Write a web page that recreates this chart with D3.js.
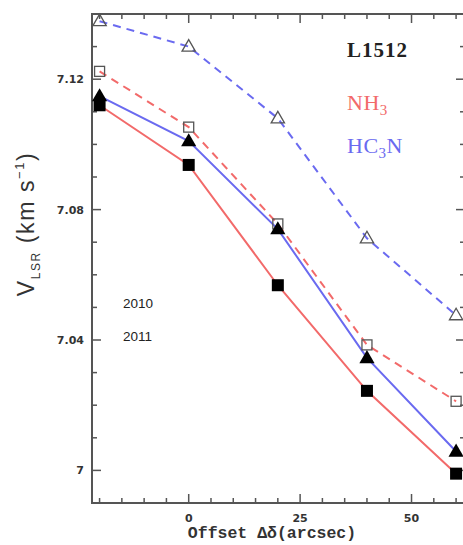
<!DOCTYPE html>
<html>
<head>
<meta charset="utf-8">
<script src="https://cdn.jsdelivr.net/npm/d3@7"></script>
<style>
  body { margin: 0; background: #fff; }
  svg { display: block; }
</style>
</head>
<body>
<svg id="chart"></svg>
<script>
// offsets along declination (arcsec)
const offsets = [-20, 0, 20, 40, 60];

// V_LSR values (km/s)
const hc3n2010 = [7.1378, 7.1300, 7.1080, 7.0712, 7.0476];
const nh32010 = [7.1224, 7.1053, 7.0756, 7.0385, 7.0212];
const hc3n2011 = [7.1148, 7.1010, 7.0740, 7.0345, 7.0058];
const nh32011 = [7.1120, 7.0937, 7.0568, 7.0244, 6.9990];

const yMajor = [7, 7.04, 7.08, 7.12];
const xMajor = [0, 25, 50];

const width = 463, height = 545;
const red = '#f26a6a', blue = '#6a6af0', axisCol = '#555';

const svg = d3.select('#chart').attr('width', width).attr('height', height);

const x = d3.scaleLinear().domain([-21.7, 62]).range([92, 465]);
const y = d3.scaleLinear().domain([6.99, 7.14]).range([503, 14]);

// frame
svg.append('rect')
    .attr('x', x.range()[0]).attr('y', y.range()[1])
    .attr('width', x.range()[1] - x.range()[0])
    .attr('height', y.range()[0] - y.range()[1])
    .attr('fill', 'none').attr('stroke', axisCol).attr('stroke-width', 2);

// inward ticks on all four sides
const xTicks = d3.range(-20, 62, 5);
const yTicks = d3.range(7.0, 7.141, 0.01).map(d => +d.toFixed(2));
const isMajX = d => xMajor.includes(d);
const isMajY = d => yMajor.some(m => Math.abs(m - d) < 1e-6);

const tk = svg.append('g').attr('stroke', axisCol).attr('stroke-width', 1.5);
xTicks.forEach(d => {
    const len = isMajX(d) ? 9 : 5;
    tk.append('line').attr('x1', x(d)).attr('x2', x(d)).attr('y1', y.range()[0]).attr('y2', y.range()[0] - len);
    tk.append('line').attr('x1', x(d)).attr('x2', x(d)).attr('y1', y.range()[1]).attr('y2', y.range()[1] + len);
});
yTicks.forEach(d => {
    const len = isMajY(d) ? 9 : 5;
    tk.append('line').attr('y1', y(d)).attr('y2', y(d)).attr('x1', x.range()[0]).attr('x2', x.range()[0] + len);
    tk.append('line').attr('y1', y(d)).attr('y2', y(d)).attr('x1', x.range()[1]).attr('x2', x.range()[1] - len);
});

// tick labels
svg.append('g').selectAll('text').data(yMajor).enter().append('text')
    .attr('x', 84).attr('y', d => y(d) + 4)
    .attr('text-anchor', 'end')
    .attr('font-family', 'DejaVu Sans').attr('font-size', 11).attr('font-weight', 'bold')
    .attr('fill', '#333')
    .text(d => d === 7 ? '7' : d.toFixed(2));

svg.append('g').selectAll('text').data(xMajor).enter().append('text')
    .attr('x', d => x(d)).attr('y', 522)
    .attr('text-anchor', 'middle')
    .attr('font-family', 'DejaVu Sans').attr('font-size', 11).attr('font-weight', 'bold')
    .attr('fill', '#333')
    .text(d => d);

// axis titles
svg.append('text')
    .attr('x', 272).attr('y', 538)
    .attr('text-anchor', 'middle')
    .attr('font-family', 'Liberation Mono').attr('font-size', 16.5).attr('font-weight', 'bold')
    .attr('fill', '#333')
    .text('Offset Δδ(arcsec)');

const yl = svg.append('text')
    .attr('transform', 'translate(34,224) rotate(-90)')
    .attr('text-anchor', 'middle')
    .attr('font-family', 'Liberation Sans').attr('font-size', 23)
    .attr('letter-spacing', 1.6)
    .attr('fill', '#333');
yl.append('tspan').text('V');
yl.append('tspan').attr('font-size', 12).attr('dy', 6).text('LSR');
yl.append('tspan').attr('dy', -6).text(' (km s');
yl.append('tspan').attr('font-size', 13).attr('dy', -10).text('−1');
yl.append('tspan').attr('dy', 10).text(')');

// lines
const line = vals => d3.line().x((d, i) => x(offsets[i])).y(d => y(d))(vals);
const series = [
    { vals: hc3n2010, color: blue, dash: '8,6' },
    { vals: nh32010, color: red, dash: '8,6' },
    { vals: hc3n2011, color: blue, dash: null },
    { vals: nh32011, color: red, dash: null }
];
series.forEach(s => {
    svg.append('path').attr('d', line(s.vals))
        .attr('fill', 'none').attr('stroke', s.color).attr('stroke-width', 2)
        .attr('stroke-dasharray', s.dash);
});

// markers
const triPath = r => `M0,${-r}L${r * 0.95},${r * 0.65}L${-r * 0.95},${r * 0.65}Z`;
svg.append('g').selectAll('path').data(hc3n2010).enter().append('path')
    .attr('transform', (d, i) => `translate(${x(offsets[i])},${y(d)})`)
    .attr('d', triPath(7)).attr('fill', 'none').attr('stroke', '#555').attr('stroke-width', 1.3);
svg.append('g').selectAll('rect').data(nh32010).enter().append('rect')
    .attr('x', (d, i) => x(offsets[i]) - 5).attr('y', d => y(d) - 5)
    .attr('width', 10).attr('height', 10)
    .attr('fill', 'none').attr('stroke', '#555').attr('stroke-width', 1.3);
svg.append('g').selectAll('path').data(hc3n2011).enter().append('path')
    .attr('transform', (d, i) => `translate(${x(offsets[i])},${y(d)})`)
    .attr('d', triPath(8)).attr('fill', '#000');
svg.append('g').selectAll('rect').data(nh32011).enter().append('rect')
    .attr('x', (d, i) => x(offsets[i]) - 6).attr('y', d => y(d) - 6)
    .attr('width', 12).attr('height', 12).attr('fill', '#000');

// labels
svg.append('text').attr('x', 347).attr('y', 57)
    .attr('font-family', 'Liberation Serif').attr('font-size', 21).attr('font-weight', 'bold')
    .attr('letter-spacing', 1).attr('fill', '#222').text('L1512');
const nh = svg.append('text').attr('x', 347).attr('y', 110)
    .attr('font-family', 'Liberation Serif').attr('font-size', 22).attr('letter-spacing', 0.5).attr('fill', red);
nh.append('tspan').text('NH');
nh.append('tspan').attr('font-size', 15).attr('dy', 5).text('3');
const hc = svg.append('text').attr('x', 347).attr('y', 153)
    .attr('font-family', 'Liberation Serif').attr('font-size', 22).attr('letter-spacing', 0.5).attr('fill', blue);
hc.append('tspan').text('HC');
hc.append('tspan').attr('font-size', 15).attr('dy', 5).text('3');
hc.append('tspan').attr('dy', -5).text('N');

svg.append('text').attr('x', 123).attr('y', 308)
    .attr('font-family', 'Liberation Sans').attr('font-size', 13.5).attr('fill', '#222').text('2010');
svg.append('text').attr('x', 123).attr('y', 341)
    .attr('font-family', 'Liberation Sans').attr('font-size', 13.5).attr('fill', '#222').text('2011');
</script>
</body>
</html>
